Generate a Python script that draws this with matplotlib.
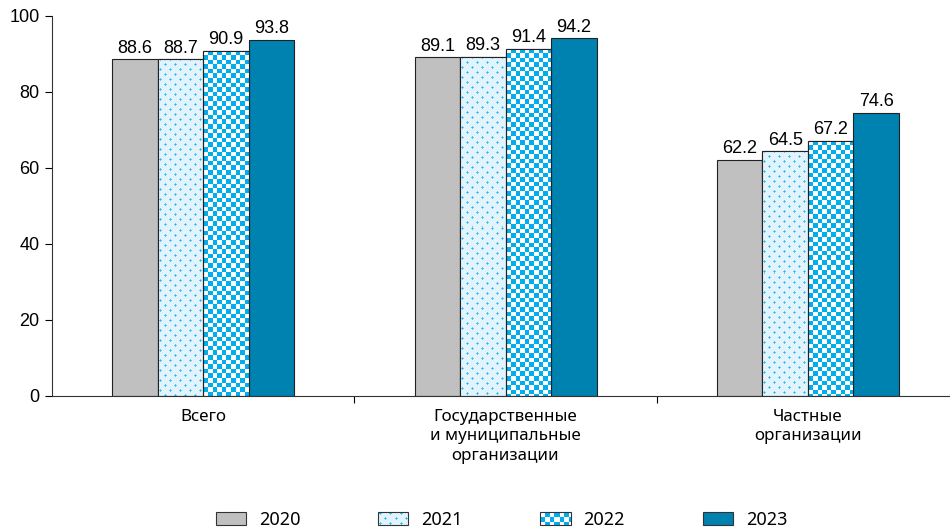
import matplotlib
matplotlib.use('Agg')
import numpy as np
import matplotlib.pyplot as plt
from matplotlib.patches import Rectangle
from matplotlib.image import BboxImage
from matplotlib.transforms import Bbox, TransformedBbox
from matplotlib.legend_handler import HandlerBase

categories = ['Всего', 'Государственные\nи муниципальные\nорганизации', 'Частные\nорганизации']
years = ['2020', '2021', '2022', '2023']
v2020 = [88.6, 89.1, 62.2]
v2021 = [88.7, 89.3, 64.5]
v2022 = [90.9, 91.4, 67.2]
v2023 = [93.8, 94.2, 74.6]
values = [v2020, v2021, v2022, v2023]

W, H, DPI = 950, 531, 100
num_font = ['Liberation Sans', 'DejaVu Sans']
txt_font = ['Noto Sans', 'DejaVu Sans']


def tex_dots(h, w):
    img = np.ones((h, w, 3)) * np.array([225, 244, 253]) / 255
    cyan = np.array([40, 180, 240]) / 255
    for r in range(1, h, 5):
        off = 0 if (r // 5) % 2 == 0 else 5
        for c in range(off + 2, w, 10):
            for dr, dc in [(0, 0), (-1, 0), (1, 0), (0, -1), (0, 1)]:
                rr, cc = r + dr, c + dc
                if 0 <= rr < h and 0 <= cc < w:
                    img[rr, cc] = cyan if (dr, dc) == (0, 0) else (img[rr, cc] + 2 * cyan) / 3
    return img


def tex_checker(h, w, cell=4.6):
    yy, xx = np.mgrid[0:h, 0:w]
    m = ((np.floor(yy / cell) + np.floor(xx / cell)) % 2).astype(bool)
    img = np.ones((h, w, 3))
    img[m] = np.array([0, 174, 239]) / 255
    return img


styles = [
    dict(color='#C0C0C0', tex=None),
    dict(color='#E1F4FD', tex=tex_dots),
    dict(color='#FFFFFF', tex=tex_checker),
    dict(color='#0082B0', tex=None),
]

fig = plt.figure(figsize=(W / DPI, H / DPI), dpi=DPI)
ax = fig.add_axes([52 / W, 135 / H, 1 - 52 / W, 380 / H])
ax.set_xlim(-0.5, 2.47)
ax.set_ylim(0, 100)

px_x = (1 - 52 / W) * W / 2.97
px_y = 380 / 100.0

x = np.arange(len(categories))
bw = 0.1505
for i, (vals, st) in enumerate(zip(values, styles)):
    pos = x + (i - 1.5) * bw
    bars = ax.bar(pos, vals, bw, color=st['color'], edgecolor='#222222', linewidth=0.8, zorder=2)
    for b, v in zip(bars, vals):
        if st['tex'] is not None:
            x0 = b.get_x()
            img = st['tex'](int(round(v * px_y)), int(round(bw * px_x)))
            im = ax.imshow(img, extent=(x0, x0 + bw, 0, v), aspect='auto',
                           interpolation='nearest', zorder=2.5, origin='upper')
            im.set_clip_path(b)
            ax.add_patch(Rectangle((x0, 0), bw, v, fill=False, edgecolor='#222222',
                                   linewidth=0.8, zorder=3))
        ax.text(b.get_x() + bw / 2, v + 0.6, f'{v:.1f}', ha='center', va='bottom',
                fontsize=13, family=num_font, zorder=4,
                bbox=dict(facecolor='white', edgecolor='none', pad=0.5))

ax.set_xlim(-0.5, 2.47)
ax.set_ylim(0, 100)
ax.set_yticks(range(0, 101, 20))
ax.set_xticks([0.5, 1.5])
ax.set_xticklabels([])
ax.tick_params(axis='x', length=5, width=0.8, direction='out')
ax.tick_params(axis='y', length=5, width=0.8, labelsize=13, pad=4)
for lab in ax.get_yticklabels():
    lab.set_family(num_font)
for s in ['top', 'right']:
    ax.spines[s].set_visible(False)
for s in ['left', 'bottom']:
    ax.spines[s].set_color('#333333')
    ax.spines[s].set_linewidth(0.8)

for xi, c in zip(x, categories):
    ax.text(xi, -3.3, c, ha='center', va='top', fontsize=12.2, family=txt_font,
            linespacing=1.32, transform=ax.transData)


class TexHandler(HandlerBase):
    def __init__(self, st):
        super().__init__()
        self.st = st

    def create_artists(self, legend, orig_handle, xdescent, ydescent, width, height, fontsize, trans):
        arts = [Rectangle((-xdescent, -ydescent), width, height, facecolor=self.st['color'],
                          edgecolor='#333333', linewidth=0.8, transform=trans)]
        if self.st['tex'] is not None:
            bb = TransformedBbox(Bbox.from_bounds(-xdescent, -ydescent, width, height), trans)
            bi = BboxImage(bb, interpolation='nearest')
            bi.set_data(self.st['tex'](13, 30))
            arts = [bi, Rectangle((-xdescent, -ydescent), width, height, fill=False,
                                  edgecolor='#333333', linewidth=0.8, transform=trans)]
        return arts


handles = [Rectangle((0, 0), 1, 1) for _ in years]
leg = fig.legend(handles, years, loc='center', bbox_to_anchor=(0.528, 0.021), ncol=4,
                 frameon=False, handlelength=1.67, handleheight=0.72, columnspacing=4.3,
                 handletextpad=0.72, borderaxespad=0, prop={'family': txt_font, 'size': 13},
                 handler_map={h: TexHandler(st) for h, st in zip(handles, styles)})

fig.savefig('out.png', dpi=DPI)
